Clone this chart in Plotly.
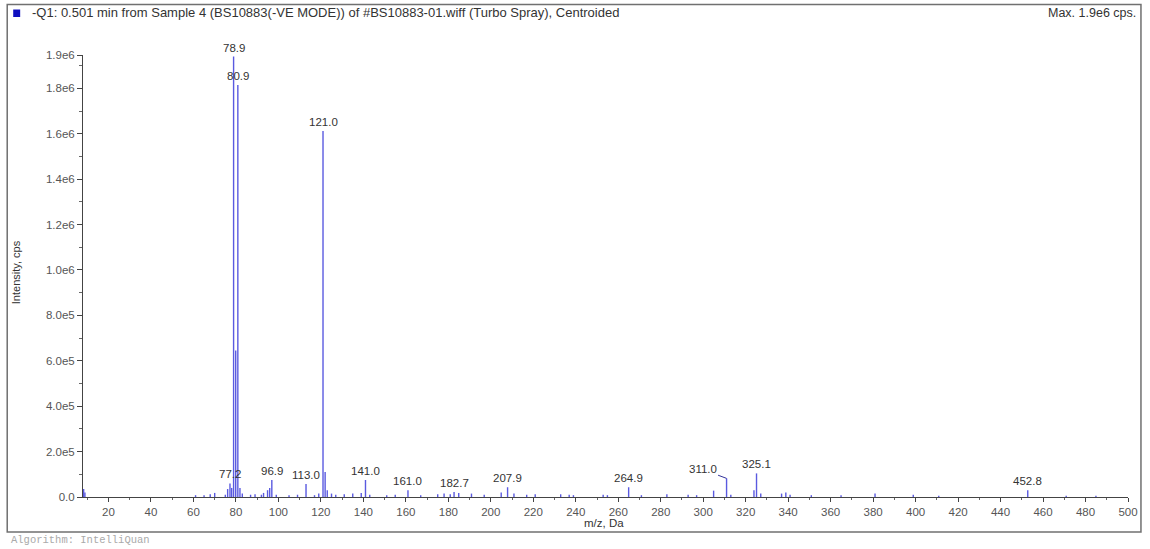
import plotly.graph_objects as go

# ---- data ----
mz = [8.3, 8.9, 61.0, 65.0, 67.9, 70.0, 75.0, 76.1, 77.2, 78.0, 78.9, 79.9, 80.9, 81.9,
      83.0, 86.9, 89.0, 92.0, 93.0, 94.9, 95.9, 96.9, 99.0, 105.0, 109.0, 113.0, 117.0,
      119.0, 121.0, 122.0, 123.0, 125.0, 127.0, 131.0, 135.0, 139.0, 141.0, 143.0, 151.0,
      155.0, 161.0, 167.0, 175.0, 178.0, 180.9, 182.7, 184.9, 190.9, 196.9, 204.9, 207.9,
      210.9, 216.9, 220.9, 232.9, 236.9, 238.9, 252.9, 254.9, 264.9, 270.9, 282.9, 292.9,
      296.9, 304.9, 311.0, 313.0, 323.9, 325.1, 327.1, 336.9, 338.9, 340.9, 350.9, 364.9,
      380.9, 398.9, 410.9, 452.8, 470.9, 484.9]
intensity = [3.5e4, 2.0e4, 8e3, 8e3, 1.2e4, 1.8e4, 1.0e4, 3.5e4, 6.0e4, 4.0e4, 1.94e6, 6.45e5,
             1.815e6, 4.0e4, 1.5e4, 1.0e4, 1.2e4, 1.0e4, 1.8e4, 3.0e4, 4.0e4, 7.5e4, 1.0e4,
             8e3, 1.0e4, 5.7e4, 8e3, 1.5e4, 1.612e6, 1.1e5, 3.0e4, 1.5e4, 1.0e4, 1.2e4, 1.5e4,
             1.8e4, 7.5e4, 1.0e4, 8e3, 1.0e4, 3.0e4, 8e3, 1.2e4, 1.5e4, 1.2e4, 2.2e4, 1.8e4,
             1.5e4, 1.0e4, 2.0e4, 4.3e4, 1.5e4, 1.0e4, 1.2e4, 1.2e4, 1.0e4, 8e3, 1.0e4, 8e3,
             4.3e4, 8e3, 1.2e4, 1.0e4, 8e3, 2.8e4, 8.2e4, 1.0e4, 3.0e4, 1.04e5, 1.5e4, 1.5e4,
             2.0e4, 1.0e4, 8e3, 8e3, 1.5e4, 1.0e4, 6e3, 3.0e4, 6e3, 6e3]

label_mz = [77.2, 78.9, 80.9, 96.9, 113.0, 121.0, 141.0, 161.0, 182.7, 207.9, 264.9, 311.0,
            325.1, 452.8]

x_tick_vals = list(range(20, 501, 20))
y_tick_vals = [0, 2e5, 4e5, 6e5, 8e5, 1.0e6, 1.2e6, 1.4e6, 1.6e6, 1.8e6, 1.947e6]
y_tick_text = ["0.0", "2.0e5", "4.0e5", "6.0e5", "8.0e5", "1.0e6", "1.2e6", "1.4e6",
               "1.6e6", "1.8e6", "1.9e6"]

title_text = "-Q1: 0.501 min from Sample 4 (BS10883(-VE MODE)) of #BS10883-01.wiff (Turbo Spray), Centroided"
max_text = "Max. 1.9e6 cps."
algo_text = "Algorithm: IntelliQuan"

# ---- figure ----
FONT = "Liberation Sans, Arial, sans-serif"
xs, ys = [], []
for m, i in zip(mz, intensity):
    xs += [m, m, None]
    ys += [0, i, None]

fig = go.Figure()
fig.add_trace(go.Scatter(x=xs, y=ys, mode="lines",
                         line=dict(color="#5a5ae0", width=1.4),
                         hoverinfo="skip", showlegend=False))

lookup = dict(zip(mz, intensity))
annotations = []
for m in label_mz:
    a = dict(x=m, y=lookup[m], text=f"{m:.1f}", showarrow=False, yanchor="bottom",
             yshift=1, font=dict(family=FONT, size=11.5, color="#333333"))
    if m == 311.0:
        a.update(showarrow=True, arrowhead=0, arrowwidth=1, arrowcolor="#333399",
                 ax=-24, ay=-9, yshift=0, xanchor="center", yanchor="middle")
    annotations.append(a)

# header / footer texts (paper coordinates relative to plot area)
L, R, T, B = 83, 1131, 55, 497
W, H = R - L, B - T
def px(xp):
    return (xp - L) / W
def py(yp):
    return (B - yp) / H

annotations += [
    dict(xref="paper", yref="paper", x=px(30), y=py(13), text=title_text, showarrow=False,
         xanchor="left", yanchor="middle", font=dict(family=FONT, size=13, color="#333333")),
    dict(xref="paper", yref="paper", x=px(1141), y=py(13), text=max_text, showarrow=False,
         xanchor="right", yanchor="middle", font=dict(family=FONT, size=12.5, color="#333333")),
    dict(xref="paper", yref="paper", x=px(9), y=py(540), text=algo_text, showarrow=False,
         xanchor="left", yanchor="middle",
         font=dict(family="Liberation Mono, DejaVu Sans Mono, monospace", size=10.5, color="#aaaaaa")),
    dict(xref="paper", yref="paper", x=px(605), y=py(523), text="m/z, Da", showarrow=False,
         xanchor="center", yanchor="middle", font=dict(family=FONT, size=11.5, color="#333333")),
    dict(xref="paper", yref="paper", x=px(16), y=py(272), text="Intensity, cps", showarrow=False,
         textangle=-90, xanchor="center", yanchor="middle",
         font=dict(family=FONT, size=11, color="#333333")),
]

shapes = [
    dict(type="rect", xref="paper", yref="paper", x0=px(7), x1=px(1144), y0=py(532), y1=py(4.5),
         line=dict(color="#707070", width=1.5), fillcolor="rgba(0,0,0,0)", layer="below"),
    dict(type="rect", xref="paper", yref="paper", x0=px(13), x1=px(20), y0=py(17), y1=py(9.5),
         line=dict(width=0), fillcolor="#1010c0"),
]

fig.update_layout(
    width=1150, height=549,
    margin=dict(l=L, r=1150 - R, t=T, b=549 - B),
    paper_bgcolor="white", plot_bgcolor="white",
    font=dict(family=FONT, size=11, color="#444444"),
    annotations=annotations, shapes=shapes,
    xaxis=dict(range=[8, 500], tickmode="array", tickvals=x_tick_vals,
               ticks="outside", ticklen=4, tickcolor="#444444", showline=True,
               linecolor="#444444", linewidth=1, showgrid=False, zeroline=False,
               tickfont=dict(family=FONT, size=11.5, color="#555555"),
               minor=dict(dtick=10, ticks="outside", ticklen=2, tickcolor="#666666")),
    yaxis=dict(range=[0, 1.947e6], tickmode="array", tickvals=y_tick_vals, ticktext=y_tick_text,
               ticks="outside", ticklen=5, tickcolor="#444444", showline=True,
               linecolor="#444444", linewidth=1, showgrid=False, zeroline=False,
               tickfont=dict(family=FONT, size=11.5, color="#555555"),
               minor=dict(dtick=1e5, tick0=0, ticks="outside", ticklen=3, tickcolor="#666666")),
)

fig.write_html("out.html", config={"displayModeBar": False},
               post_script="document.body.style.margin='0px';document.body.style.overflow='hidden';")
